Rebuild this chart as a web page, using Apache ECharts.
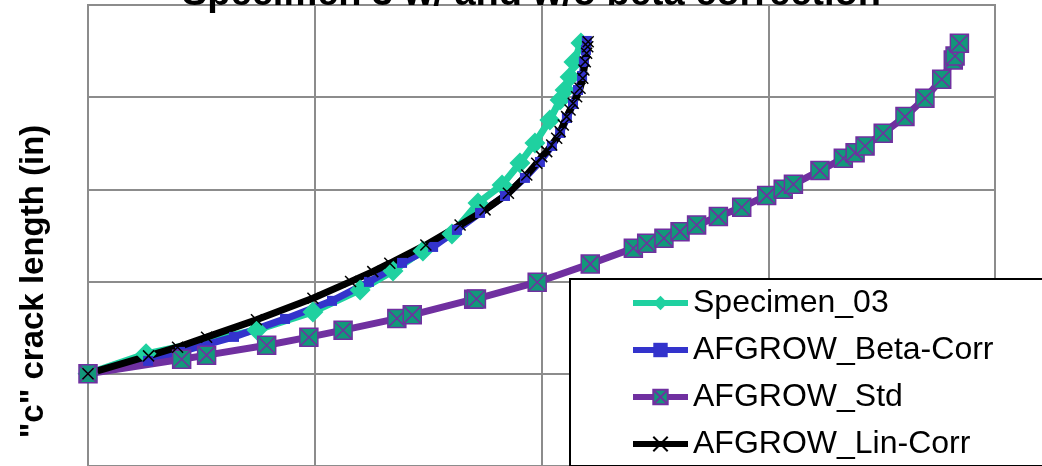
<!DOCTYPE html>
<html>
<head>
<meta charset="utf-8">
<script src="https://cdn.jsdelivr.net/npm/echarts@6/dist/echarts.min.js"></script>
<style>
html, body { margin: 0; padding: 0; background: #fff; }
#chart { width: 1042px; height: 466px; }
</style>
</head>
<body>
<div id="chart"></div>
<script>
// [x, c] pairs
var specimen03 = [
  [0, 2.0], [0.256, 2.215], [0.745, 2.475], [0.992, 2.670], [1.200, 2.909],
  [1.345, 3.115], [1.477, 3.332], [1.605, 3.516], [1.720, 3.852], [1.826, 4.048],
  [1.905, 4.286], [1.971, 4.503], [2.037, 4.753], [2.082, 4.970], [2.104, 5.078],
  [2.126, 5.219], [2.143, 5.382], [2.174, 5.588]
];
var betaCorr = [
  [0, 2.0], [0.265, 2.139], [0.406, 2.236], [0.644, 2.399], [0.869, 2.594],
  [1.076, 2.790], [1.239, 2.996], [1.385, 3.202], [1.522, 3.375], [1.627, 3.560],
  [1.729, 3.744], [1.839, 3.928], [1.927, 4.124], [1.993, 4.297], [2.046, 4.471],
  [2.082, 4.612], [2.112, 4.774], [2.139, 4.926], [2.161, 5.078], [2.179, 5.230],
  [2.187, 5.382], [2.196, 5.512], [2.200, 5.610]
];
var stdAfgrow = [
  [0, 2.0], [0.413, 2.157], [0.523, 2.201], [0.788, 2.309], [0.974, 2.396],
  [1.125, 2.472], [1.362, 2.598], [1.430, 2.638], [1.701, 2.808], [1.713, 2.811],
  [1.981, 2.992], [2.215, 3.191], [2.405, 3.361], [2.464, 3.415], [2.540, 3.470],
  [2.611, 3.541], [2.684, 3.614], [2.780, 3.704], [2.883, 3.806], [2.993, 3.932],
  [3.066, 4.001], [3.111, 4.055], [3.228, 4.203], [3.331, 4.337], [3.383, 4.398],
  [3.427, 4.471], [3.507, 4.608], [3.603, 4.789], [3.691, 4.988], [3.765, 5.194],
  [3.816, 5.403], [3.824, 5.447], [3.843, 5.585]
];
var linCorr = [
  [0, 2.0], [0.267, 2.193], [0.395, 2.287], [0.523, 2.396], [0.743, 2.584],
  [0.992, 2.819], [1.158, 2.999], [1.256, 3.107], [1.331, 3.198], [1.490, 3.397],
  [1.641, 3.614], [1.751, 3.777], [1.854, 3.958], [1.935, 4.156], [1.979, 4.283],
  [2.001, 4.355], [2.023, 4.409], [2.045, 4.482], [2.067, 4.554], [2.082, 4.626],
  [2.096, 4.698], [2.111, 4.789], [2.126, 4.861], [2.140, 4.934], [2.155, 5.005],
  [2.170, 5.097], [2.182, 5.205], [2.187, 5.295], [2.193, 5.385], [2.199, 5.476],
  [2.204, 5.548], [2.206, 5.602]
];
var seriesNames = ['Specimen_03', 'AFGROW_Beta-Corr', 'AFGROW_Std', 'AFGROW_Lin-Corr'];

var chart = echarts.init(document.getElementById('chart'));
var gridColor = '#8c8c8c';
var font = '"Liberation Sans", Arial, sans-serif';

var option = {
  animation: false,
  backgroundColor: '#fff',
  title: {
    text: 'Specimen 3 w/ and w/o beta correction',
    left: 182,
    top: -24,
    padding: 0,
    textStyle: { fontFamily: font, fontSize: 38, fontWeight: 'bold', color: '#000' }
  },
  grid: {
    left: 88, width: 907, top: 5, height: 553,
    outerBoundsMode: 'none',
    show: true, borderColor: gridColor, borderWidth: 2
  },
  legend: {
    orient: 'vertical',
    left: 570,
    top: 279,
    padding: [6, 60, 4, 60],
    backgroundColor: '#fff',
    borderColor: '#000',
    borderWidth: 2,
    itemWidth: 55,
    itemHeight: 18,
    itemGap: 11,
    lineStyle: { width: 6 },
    data: seriesNames,
    textStyle: { fontFamily: font, fontSize: 32, color: '#000', lineHeight: 36 }
  },
  xAxis: {
    type: 'value', min: 0, max: 4, interval: 1,
    axisLine: { show: false }, axisTick: { show: false }, axisLabel: { show: false },
    splitLine: { lineStyle: { color: gridColor, width: 2 } }
  },
  yAxis: {
    type: 'value', min: 0, max: 6, interval: 1,
    name: '"c" crack length (in)',
    nameLocation: 'middle',
    nameGap: 38,
    nameTextStyle: { fontFamily: font, fontSize: 33, fontWeight: 'bold', color: '#000' },
    axisLine: { show: false }, axisTick: { show: false }, axisLabel: { show: false },
    splitLine: { lineStyle: { color: gridColor, width: 2 } }
  },
  series: [
    {
      name: seriesNames[0], type: 'line', data: specimen03,
      symbol: 'diamond', symbolSize: 21,
      itemStyle: { color: '#1fd1a0' },
      lineStyle: { color: '#1fd1a0', width: 7 }
    },
    {
      name: seriesNames[1], type: 'line', data: betaCorr,
      symbol: 'rect', symbolSize: 10,
      itemStyle: { color: '#3333cc' },
      lineStyle: { color: '#3333cc', width: 7 }
    },
    {
      name: seriesNames[2], type: 'line', data: stdAfgrow,
      symbol: 'path://M0,0 L10,0 L10,10 L0,10 Z M0,0 L10,10 M10,0 L0,10',
      symbolSize: 18,
      itemStyle: { color: '#12987a', borderColor: '#7030a0', borderWidth: 1.5 },
      lineStyle: { color: '#7030a0', width: 7 }
    },
    {
      name: seriesNames[3], type: 'line', data: linCorr,
      symbol: 'path://M0,0 L10,10 M10,0 L0,10',
      symbolSize: 11,
      itemStyle: { color: 'rgba(0,0,0,0)', borderColor: '#000', borderWidth: 1.5 },
      lineStyle: { color: '#000', width: 7 }
    }
  ]
};

chart.setOption(option);
</script>
</body>
</html>
